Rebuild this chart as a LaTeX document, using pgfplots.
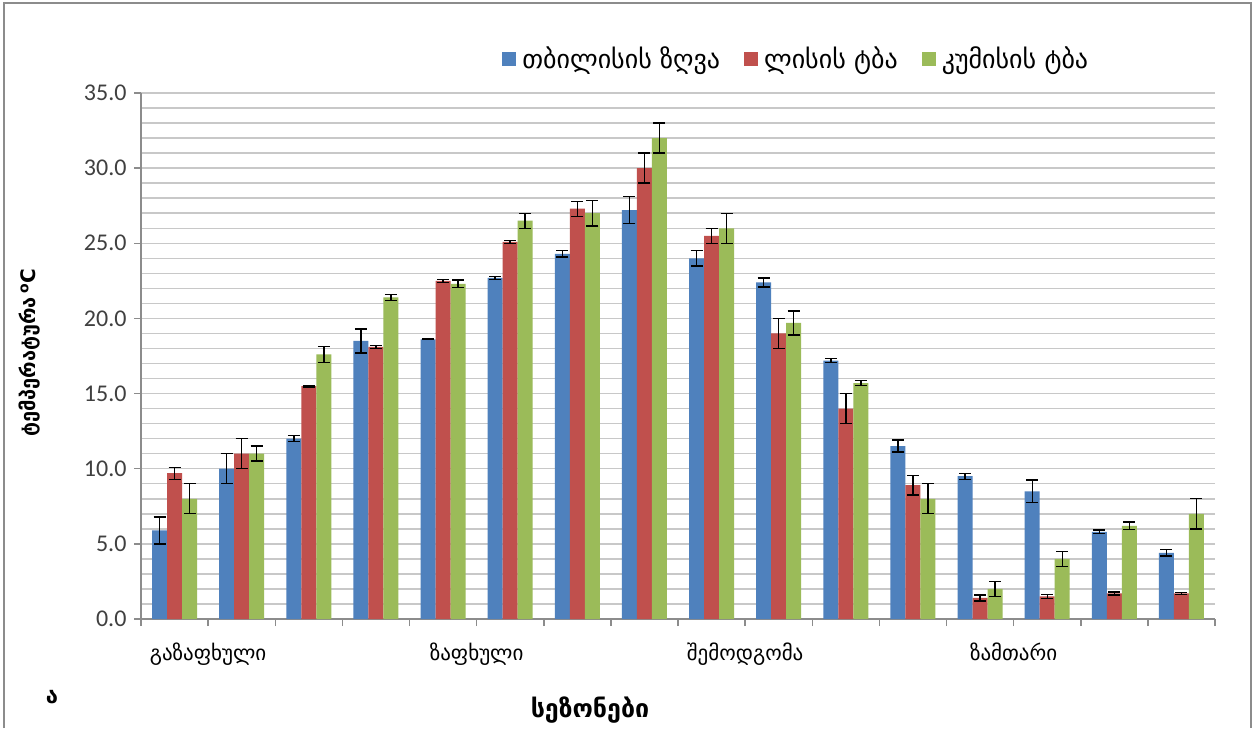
\documentclass[border=0pt]{standalone}
\usepackage{fontspec}
\setmainfont{Carlito}
\newfontfamily\geo{DejaVu Sans}
\usepackage{pgfplots}
\usepackage{pgfplotstable}
\pgfplotsset{compat=1.18}
\definecolor{cblue}{RGB}{79,129,189}
\definecolor{cred}{RGB}{192,80,77}
\definecolor{cgreen}{RGB}{155,187,89}
\definecolor{gridc}{RGB}{200,200,200}
\definecolor{axc}{RGB}{140,140,140}
\definecolor{tickc}{RGB}{64,64,64}
\pgfplotstableread{
x b be r re g ge
0 5.9 0.9 9.7 0.4 8.0 1.0
1 10.0 1.0 11.0 1.0 11.0 0.5
2 12.0 0.2 15.5 0.05 17.6 0.55
3 18.5 0.8 18.1 0.1 21.4 0.2
4 18.6 0.02 22.5 0.1 22.3 0.25
5 22.7 0.1 25.1 0.1 26.5 0.5
6 24.3 0.2 27.3 0.5 27.0 0.85
7 27.2 0.9 30.0 1.0 32.0 1.0
8 24.0 0.5 25.5 0.5 26.0 1.0
9 22.4 0.3 19.0 1.0 19.7 0.8
10 17.2 0.15 14.0 1.0 15.7 0.15
11 11.5 0.4 8.9 0.65 8.0 1.0
12 9.5 0.2 1.4 0.2 2.0 0.5
13 8.5 0.75 1.5 0.15 4.0 0.5
14 5.8 0.12 1.7 0.1 6.2 0.25
15 4.4 0.22 1.7 0.05 7.0 1.0
}\data
\begin{document}
\begin{tikzpicture}
\useasboundingbox (0,0) rectangle (1255pt,728pt);
\fill[white] (0,0) rectangle (1255pt,728pt);
\draw[axc, line width=1.5pt] (4pt,0pt) -- (4pt,725pt) -- (1251pt,725pt) -- (1251pt,0pt);
\begin{axis}[
  at={(141pt,109pt)}, anchor=south west,
  scale only axis, width=1074pt, height=526pt,
  ybar=0pt, bar width=15pt,
  xmin=-0.5, xmax=15.5, ymin=0, ymax=35,
  ytick={0,5,...,35}, minor ytick={0,1,...,35},
  ymajorgrids, yminorgrids,
  major grid style={gridc, line width=1.5pt},
  minor grid style={gridc, line width=1.5pt},
  xtick={-0.5,0.5,...,15.5}, xticklabels={},
  extra x ticks={0.5,4.5,8.5,12.5},
  extra x tick labels={გაზაფხული,ზაფხული,შემოდგომა,ზამთარი},
  extra x tick style={major tick length=0pt, tick label style={font=\geo\fontsize{21}{25}\selectfont, yshift=-20pt, text=black}},
  axis x line*=bottom, axis y line*=left,
  axis line style={axc, line width=1.5pt},
  tick style={axc, line width=1.5pt},
  tick align=outside, major tick length=7pt, minor tick length=0pt,
  yticklabel style={font=\fontsize{24}{28}\selectfont, text=tickc, xshift=-4pt},
  error bars/y dir=both, error bars/y explicit,
  error bars/error bar style={black, line width=1.4pt},
  error bars/error mark options={black, rotate=90, mark size=6pt, line width=1.4pt},
  legend image code/.code={\fill[#1] (0pt,-7pt) rectangle (14pt,7pt);},
  legend style={at={(0.612,1.065)}, anchor=center, legend columns=3, draw=none, fill=none,
    font=\geo\fontsize{26}{30}\selectfont, nodes={inner xsep=6pt},
    /tikz/every even column/.append style={column sep=18pt}},
  yticklabel style={/pgf/number format/.cd, fixed, fixed zerofill, precision=1, assume math mode=true},
]
\addplot[fill=cblue, draw=none] table[x=x, y=b, y error=be] {\data};
\addplot[fill=cred, draw=none] table[x=x, y=r, y error=re] {\data};
\addplot[fill=cgreen, draw=none] table[x=x, y=g, y error=ge] {\data};
\legend{თბილისის ზღვა, ლისის ტბა, კუმისის ტბა}
\end{axis}
\node[rotate=90, font=\geo\bfseries\fontsize{20}{24}\selectfont] at (30pt,375pt) {ტემპერატურა\,\textsuperscript{o}C};
\node[font=\geo\bfseries\fontsize{25}{29}\selectfont] at (590pt,18pt) {სეზონები};
\node[font=\geo\bfseries\fontsize{22}{26}\selectfont] at (52pt,31pt) {ა};
\end{tikzpicture}
\end{document}
